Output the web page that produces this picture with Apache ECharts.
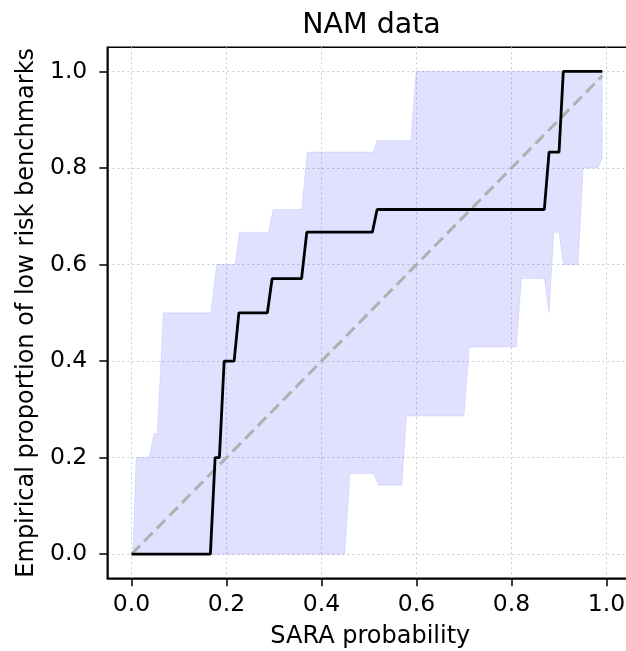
<!DOCTYPE html>
<html>
<head>
<meta charset="utf-8">
<script src="https://cdn.jsdelivr.net/npm/echarts@6/dist/echarts.min.js"></script>
<style>
    html, body { margin: 0; padding: 0; background: #fff; }
    #chart { width: 626px; height: 651px; }
</style>
</head>
<body>
<div id="chart"></div>
<script>
    /*----------  data  ----------*/
    // black curve: SARA probability -> empirical proportion
    var curveX = [0.0, 0.166, 0.176, 0.185, 0.195, 0.216, 0.226, 0.286, 0.296, 0.358, 0.369, 0.507, 0.517, 0.869, 0.879, 0.900, 0.909, 0.991];
    var curveY = [0.0, 0.0, 0.2, 0.2, 0.4, 0.4, 0.5, 0.5, 0.571, 0.571, 0.667, 0.667, 0.714, 0.714, 0.833, 0.833, 1.0, 1.0];

    // shaded band, upper edge
    var upperX = [0.003, 0.0095, 0.0375, 0.047, 0.054, 0.067, 0.167, 0.179, 0.218, 0.227, 0.288, 0.298, 0.358, 0.370, 0.509, 0.517, 0.588, 0.599, 0.991];
    var upperY = [0.0, 0.2, 0.2, 0.25, 0.25, 0.5, 0.5, 0.6, 0.6, 0.667, 0.667, 0.714, 0.714, 0.833, 0.833, 0.857, 0.857, 1.0, 1.0];

    // shaded band, lower edge
    var lowerX = [0.003, 0.449, 0.460, 0.509, 0.520, 0.569, 0.579, 0.700, 0.711, 0.810, 0.821, 0.869, 0.879, 0.889, 0.900, 0.909, 0.940, 0.951, 0.982, 0.991];
    var lowerY = [0.0, 0.0, 0.167, 0.167, 0.143, 0.143, 0.286, 0.286, 0.429, 0.429, 0.571, 0.571, 0.5, 0.667, 0.667, 0.6, 0.6, 0.8, 0.8, 0.82];

    // perfect calibration reference
    var diagX = [0.0, 0.991];
    var diagY = [0.0, 0.991];

    var tickValues = [0.0, 0.2, 0.4, 0.6, 0.8, 1.0];

    /*----------  chart  ----------*/
    var font = 'DejaVu Sans';

    function pairs(xs, ys) {
        return xs.map(function (x, i) { return [x, ys[i]]; });
    }

    var chart = echarts.init(document.getElementById('chart'), null, { renderer: 'canvas' });

    var gridLine = { show: true, lineStyle: { type: [2, 3], color: '#cccccc', width: 1 } };

    var option = {
        animation: false,
        backgroundColor: '#fff',
        title: {
            text: 'NAM data',
            left: 366.5,
            top: 6,
            textAlign: 'center',
            textStyle: { fontFamily: font, fontSize: 28.5, fontWeight: 'normal', color: '#000' }
        },
        grid: {
            left: 107.3,
            top: 47.3,
            width: 520,
            height: 531,
            outerBoundsMode: 'none',
            containLabel: false,
            show: true,
            borderColor: '#000',
            borderWidth: 1.5,
            backgroundColor: 'transparent'
        },
        xAxis: {
            type: 'value',
            min: -0.051,
            max: 1.0437,
            minInterval: 0.2,
            maxInterval: 0.2,
            name: 'SARA probability',
            nameLocation: 'middle',
            nameGap: 46,
            nameTextStyle: { fontFamily: font, fontSize: 24, color: '#000', padding: [0, 0, 0, 6] },
            axisLine: { onZero: false, lineStyle: { color: '#000', width: 1.5 } },
            axisTick: { show: true, length: 8, customValues: tickValues, lineStyle: { color: '#000', width: 1.5 } },
            axisLabel: {
                customValues: tickValues,
                margin: 15,
                fontFamily: font,
                fontSize: 23.5,
                color: '#000',
                formatter: function (v) { return v.toFixed(1); }
            },
            splitLine: gridLine
        },
        yAxis: {
            type: 'value',
            min: -0.05,
            max: 1.05,
            minInterval: 0.2,
            maxInterval: 0.2,
            name: 'Empirical proportion of low risk benchmarks',
            nameLocation: 'middle',
            nameGap: 65,
            nameTextStyle: { fontFamily: font, fontSize: 24, color: '#000' },
            axisLine: { onZero: false, lineStyle: { color: '#000', width: 1.5 } },
            axisTick: { show: true, length: 8, customValues: tickValues, lineStyle: { color: '#000', width: 1.5 } },
            axisLabel: {
                customValues: tickValues,
                margin: 20,
                fontFamily: font,
                fontSize: 23.5,
                color: '#000',
                formatter: function (v) { return v.toFixed(1); }
            },
            splitLine: gridLine
        },
        series: [
            {
                name: 'band',
                type: 'custom',
                silent: true,
                z: 1,
                data: [[0, 0]],
                renderItem: function (params, api) {
                    var pts = [];
                    for (var i = 0; i < upperX.length; i++) {
                        pts.push(api.coord([upperX[i], upperY[i]]));
                    }
                    for (var j = lowerX.length - 1; j >= 0; j--) {
                        pts.push(api.coord([lowerX[j], lowerY[j]]));
                    }
                    return {
                        type: 'polygon',
                        shape: { points: pts },
                        style: { fill: 'rgba(0,0,255,0.12)', stroke: 'rgba(0,0,255,0.08)', lineWidth: 1 }
                    };
                }
            },
            {
                name: 'diagonal',
                type: 'line',
                z: 2,
                silent: true,
                symbol: 'none',
                data: pairs(diagX, diagY),
                lineStyle: { color: '#b0b0b0', width: 3, type: [12, 6] }
            },
            {
                name: 'curve',
                type: 'line',
                z: 3,
                silent: true,
                symbol: 'none',
                data: pairs(curveX, curveY),
                lineStyle: { color: '#000', width: 2.8 }
            }
        ]
    };

    chart.setOption(option);
</script>
</body>
</html>
